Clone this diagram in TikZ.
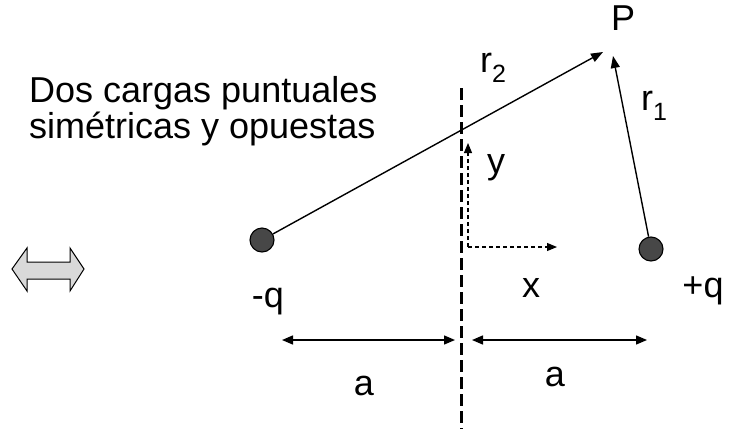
\documentclass[tikz,border=0pt]{standalone}
\usepackage{fontspec}
\setmainfont{Liberation Sans}
\usetikzlibrary{arrows.meta}
\newcommand{\subidx}[1]{\raisebox{-10pt}{\fontsize{25}{25}\selectfont #1}}

\begin{document}
\begin{tikzpicture}[x=1pt, y=-1pt,
    lbl/.style={font=\fontsize{36}{38}\selectfont, inner sep=0pt, anchor=base},
    txt/.style={font=\fontsize{36}{38}\selectfont, inner sep=0pt, anchor=base west},
    charge/.style={circle, draw=black, fill=black!72, minimum size=24pt,
      inner sep=0pt, line width=1.1pt},
    vec/.style={-{Triangle[length=12pt, width=9pt]}, line width=1.4pt},
    dim/.style={{Triangle[length=11pt, width=9pt]}-{Triangle[length=11pt, width=9pt]},
      line width=1.4pt},
    axis/.style={-{Triangle[length=10pt, width=8pt]}, line width=1.1pt,
      dash pattern=on 4pt off 3pt},
    mid/.style={line width=3pt, dash pattern=on 12pt off 5pt}
  ]
    \useasboundingbox (0,0) rectangle (738,429);
    \node[txt] (TXT1) at (29,102) {Dos cargas puntuales};
    \node[txt] (TXT2) at (29,138) {simétricas y opuestas};
    \node[charge] (QM) at (262,240) {};
    \node[charge] (QP) at (651,249) {};
    \node[lbl] (LQM) at (268,307) {-q};
    \node[lbl] (LQP) at (703,297) {+q};
    \node[lbl] (P) at (623,30) {P};
    \node[txt] (R2) at (480,72) {r\subidx{2}};
    \node[txt] (R1) at (641,110) {r\subidx{1}};
    \node[lbl] (LX) at (531,297) {x};
    \node[lbl] (LY) at (496,173) {y};
    \node[lbl] (A1) at (364,395) {a};
    \node[lbl] (A2) at (555,386) {a};
    \coordinate (P2) at (603,52);
    \coordinate (P1) at (613,56);
    \coordinate (MTOP) at (461,88);
    \coordinate (MBOT) at (461,429);
    \coordinate (O) at (468,247);
    \coordinate (YTIP) at (468,143);
    \coordinate (XTIP) at (557,247);
    \coordinate (DL1) at (282,340);
    \coordinate (DL2) at (455,340);
    \coordinate (DR1) at (472,340);
    \coordinate (DR2) at (647,340);
    \draw[mid] (MTOP) -- (MBOT);
    \draw[vec] (QM) -- (P2);
    \draw[vec] (QP) -- (P1);
    \draw[axis] (O) -- (YTIP);
    \draw[axis] (O) -- (XTIP);
    \draw[dim] (DL1) -- (DL2);
    \draw[dim] (DR1) -- (DR2);
    \filldraw[fill=black!15, line width=1pt] (12,269) -- (27,248) -- (27,262)
      -- (70,262) -- (70,248) -- (84,269) -- (70,291) -- (70,279)
      -- (27,279) -- (27,291) -- cycle;
  \end{tikzpicture}
\end{document}
